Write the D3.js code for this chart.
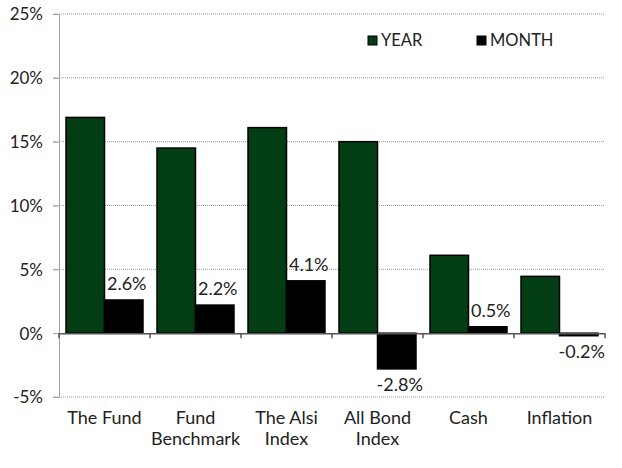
<!DOCTYPE html>
<html>
<head>
<meta charset="utf-8">
<script src="https://cdn.jsdelivr.net/npm/d3@7"></script>
<style>
  body { margin: 0; background: #fff; }
  svg text { font-family: Lato, "Noto Sans", sans-serif; font-weight: 400; fill: #222; }
</style>
</head>
<body>
<svg id="chart" width="622" height="468"></svg>
<script>
// categories (two-line labels)
const categories = ["The Fund", "Fund Benchmark", "The Alsi Index", "All Bond Index", "Cash", "Inflation"];
const catLines = [["The Fund"], ["Fund", "Benchmark"], ["The Alsi", "Index"], ["All Bond", "Index"], ["Cash"], ["Inflation"]];
const yearValues = [16.9, 14.5, 16.1, 15.0, 6.1, 4.45];
const monthValues = [2.6, 2.2, 4.1, -2.8, 0.5, -0.2];
const yTicks = [-5, 0, 5, 10, 15, 20, 25];
const seriesNames = ["YEAR", "MONTH"];
const seriesColors = ["#033d13", "#000000"];

const svg = d3.select("svg#chart");

const area = { left: 59, right: 605, top: 14, bottom: 397 };

const scX = d3.scaleBand()
    .domain(categories)
    .range([area.left, area.right])
    .paddingInner(0.154)
    .paddingOuter(0.077);

// band for the whole category (ticks between categories)
const scCat = d3.scaleBand()
    .domain(categories)
    .range([area.left, area.right]);

const scY = d3.scaleLinear()
    .domain([-5, 25])
    .range([area.bottom, area.top]);

// gridlines
svg.append("g")
    .selectAll("line")
    .data(yTicks.filter(d => d !== 0))
    .enter()
    .append("line")
    .attr("x1", area.left - 6)
    .attr("x2", area.right)
    .attr("y1", d => scY(d))
    .attr("y2", d => scY(d))
    .style("stroke", "#9a9a9a")
    .style("stroke-width", 1)
    .style("stroke-dasharray", "1,1");

// y axis
const axisY = d3.axisLeft(scY)
    .tickValues(yTicks)
    .tickFormat(d => d + "%")
    .tickSize(6)
    .tickPadding(10);

const gY = svg.append("g")
    .attr("transform", `translate(${area.left},0)`)
    .call(axisY);
gY.select(".domain").style("stroke", "#a0a0a0");
gY.selectAll(".tick line").style("stroke", "#a0a0a0");
gY.selectAll("text")
    .style("font-size", "17px")
    .style("font-family", "Lato, sans-serif")
    .style("fill", "#222")
    .attr("dy", "0.35em");

// bars
const bw = scX.bandwidth() / 2;
const groups = svg.append("g")
    .selectAll("g")
    .data(categories)
    .enter()
    .append("g");

groups.append("rect")
    .attr("x", d => scX(d))
    .attr("y", (d, i) => scY(Math.max(0, yearValues[i])))
    .attr("width", bw)
    .attr("height", (d, i) => Math.abs(scY(yearValues[i]) - scY(0)))
    .style("fill", seriesColors[0])
    .style("stroke", "#000")
    .style("stroke-width", 1.5);

groups.append("rect")
    .attr("x", d => scX(d) + bw)
    .attr("y", (d, i) => scY(Math.max(0, monthValues[i])))
    .attr("width", bw)
    .attr("height", (d, i) => Math.abs(scY(monthValues[i]) - scY(0)))
    .style("fill", seriesColors[1])
    .style("stroke", "#000")
    .style("stroke-width", 1.5);

// month labels
groups.append("text")
    .attr("x", d => scX(d) + bw * 1.5 + 3)
    .attr("y", (d, i) => monthValues[i] >= 0
        ? scY(monthValues[i]) - 10
        : scY(monthValues[i]) + 22)
    .attr("text-anchor", "middle")
    .style("font-size", "18px")
    .text((d, i) => monthValues[i].toFixed(1) + "%");

// zero axis
const axisX = d3.axisBottom(scCat)
    .tickSize(0)
    .tickFormat("");
const gX = svg.append("g")
    .attr("transform", `translate(0,${scY(0)})`)
    .call(axisX);
gX.select(".domain").style("stroke", "#555").style("stroke-width", 1.5);

svg.append("g")
    .selectAll("line")
    .data(categories.concat(["end"]))
    .enter()
    .append("line")
    .attr("x1", (d, i) => i < categories.length ? scCat(d) : area.right)
    .attr("x2", (d, i) => i < categories.length ? scCat(d) : area.right)
    .attr("y1", scY(0))
    .attr("y2", scY(0) + 5)
    .style("stroke", "#555")
    .style("stroke-width", 1.5);

// category labels
const catText = svg.append("g")
    .selectAll("text")
    .data(categories)
    .enter()
    .append("text")
    .attr("x", d => scCat(d) + scCat.bandwidth() / 2)
    .attr("y", area.bottom + 27)
    .attr("text-anchor", "middle")
    .style("font-size", "18px");

catText.each(function(d, i) {
    const t = d3.select(this);
    catLines[i].forEach((line, j) => {
        t.append("tspan")
            .attr("x", scCat(d) + scCat.bandwidth() / 2)
            .attr("dy", j === 0 ? 0 : "1.17em")
            .text(line);
    });
});

// legend
const legendX = [368, 477];
const legend = svg.append("g")
    .selectAll("g")
    .data(seriesNames)
    .enter()
    .append("g")
    .attr("transform", (d, i) => `translate(${legendX[i]},36)`);

legend.append("rect")
    .attr("width", 9)
    .attr("height", 9)
    .style("fill", (d, i) => seriesColors[i])
    .style("stroke", "#000")
    .style("stroke-width", 1);

legend.append("text")
    .attr("x", 13)
    .attr("y", 10)
    .style("font-size", "16.5px")
    .text(d => d);
</script>
</body>
</html>
